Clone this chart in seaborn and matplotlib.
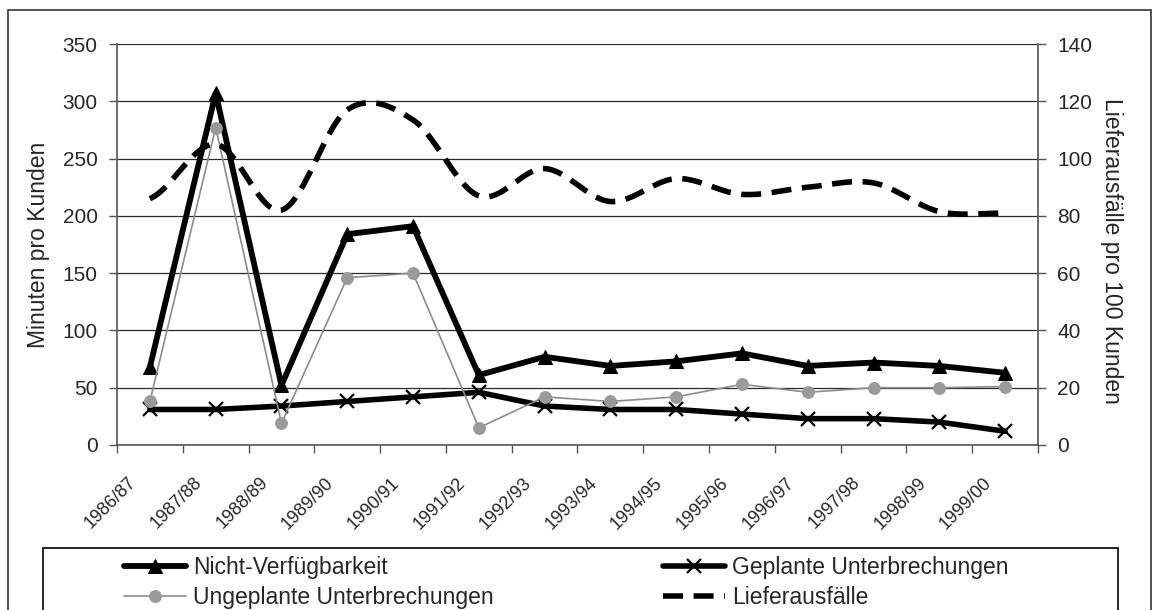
import numpy as np
import pandas as pd
import matplotlib
matplotlib.use("Agg")
import matplotlib.pyplot as plt
import matplotlib.patches as mpatches
import matplotlib.transforms as mtransforms
import seaborn as sns

# season labels on the x axis
seasons = [
    "1986/87", "1987/88", "1988/89", "1989/90", "1990/91", "1991/92", "1992/93",
    "1993/94", "1994/95", "1995/96", "1996/97", "1997/98", "1998/99", "1999/00",
]

# minutes per customer (left axis)
nicht_verfuegbarkeit = [68, 307, 52, 184, 191, 61, 77, 69, 73, 80, 69, 72, 69, 63]
geplante = [31, 31, 34, 38, 42, 46, 34, 31, 31, 27, 23, 23, 20, 12]
ungeplante = [38, 277, 19, 146, 150, 15, 42, 38, 42, 53, 46, 50, 50, 51]

# supply failures per 100 customers (right axis)
lieferausfaelle = [86, 105, 82, 117, 113.5, 87, 96.5, 85, 93, 87.5, 90, 91.5, 81.5, 81]


def smooth_curve(xs, ys, steps=24):
    """
    Catmull-Rom style smoothing, like the 'smoothed line' option in spreadsheets.
    Only used to draw the line, the data stays as given.
    """
    xs = np.asarray(xs, dtype=float)
    ys = np.asarray(ys, dtype=float)
    px = np.concatenate([[xs[0]], xs, [xs[-1]]])
    py = np.concatenate([[ys[0]], ys, [ys[-1]]])
    out_x, out_y = [], []
    t = np.linspace(0, 1, steps, endpoint=False)
    for i in range(1, len(px) - 2):
        p0, p1, p2, p3 = py[i - 1], py[i], py[i + 1], py[i + 2]
        m1 = (p2 - p0) / 2
        m2 = (p3 - p1) / 2
        h00 = 2 * t**3 - 3 * t**2 + 1
        h10 = t**3 - 2 * t**2 + t
        h01 = -2 * t**3 + 3 * t**2
        h11 = t**3 - t**2
        out_y.extend(h00 * p1 + h10 * m1 + h01 * p2 + h11 * m2)
        out_x.extend(px[i] + t * (px[i + 1] - px[i]))
    out_x.append(xs[-1])
    out_y.append(ys[-1])
    return np.array(out_x), np.array(out_y)


df = pd.DataFrame({
    "pos": np.arange(len(seasons)),
    "season": seasons,
    "nv": nicht_verfuegbarkeit,
    "gu": geplante,
    "uu": ungeplante,
    "la": lieferausfaelle,
})

sns.set_style("white")
plt.rcParams["font.family"] = ["Liberation Sans", "DejaVu Sans"]

fig = plt.figure(figsize=(11.53, 6.10), dpi=100)
W, H = 1153, 610
ax = fig.add_axes([117 / W, 1 - 445 / H, (1038 - 117) / W, (445 - 44) / H])
ax2 = ax.twinx()

# left axis series
sns.lineplot(
    data=df, x="pos", y="nv", ax=ax,
    color="black", linewidth=4.2,
    marker="^", markersize=10,
    markeredgecolor="black", markerfacecolor="black",
    label="Nicht-Verfügbarkeit", legend=False, zorder=3
)
sns.lineplot(
    data=df, x="pos", y="gu", ax=ax,
    color="black", linewidth=4.0,
    marker="x", markersize=10, markeredgewidth=1.6,
    markeredgecolor="black",
    label="Geplante Unterbrechungen", legend=False, zorder=3
)
sns.lineplot(
    data=df, x="pos", y="uu", ax=ax,
    color="#8c8c8c", linewidth=1.2,
    marker="o", markersize=8.5,
    markeredgecolor="#9a9a9a", markerfacecolor="#9a9a9a",
    label="Ungeplante Unterbrechungen", legend=False, zorder=4
)

# right axis, smoothed dashed line
sx, sy = smooth_curve(df["pos"], df["la"])
sns.lineplot(
    x=sx, y=sy, ax=ax2, sort=False,
    color="black", linewidth=4.0,
    linestyle=(0, (3.6, 1.9)),
    label="Lieferausfälle", legend=False
)

# axes styling
ax.set_xlim(-0.5, len(seasons) - 0.5)
ax.set_ylim(0, 350)
ax.set_yticks(range(0, 351, 50))
ax2.set_ylim(0, 140)
ax2.set_yticks(range(0, 141, 20))

ax.set_xticks(np.arange(-0.5, len(seasons), 1.0))
ax.set_xticklabels([])
ax.set_xticks(df["pos"], seasons, minor=True)
ax.tick_params(axis="x", which="major", direction="out", length=6,
               width=1, color="#555555", bottom=True)
ax.tick_params(axis="x", which="minor", length=0, pad=21, labelsize=13,
               labelrotation=45)
for lbl in ax.get_xticklabels(minor=True):
    lbl.set_horizontalalignment("right")
    lbl.set_transform(lbl.get_transform()
                      + mtransforms.ScaledTranslation(-0.10, 0, fig.dpi_scale_trans))

ax.tick_params(axis="y", direction="out", length=6, width=1, color="#555555",
               labelsize=15, pad=8, left=True)
ax2.tick_params(axis="y", direction="out", length=6, width=1, color="#555555",
                labelsize=15, pad=8, right=True)

ax.yaxis.grid(True, color="#2a2a2a", linewidth=0.9)
ax.set_axisbelow(True)
ax2.grid(False)

for side in ["top", "right"]:
    ax.spines[side].set_visible(False)
for side in ["top", "left", "bottom"]:
    ax2.spines[side].set_visible(False)
ax.spines["left"].set_color("#555555")
ax.spines["bottom"].set_color("#555555")
ax2.spines["right"].set_color("#555555")
for sp in [ax.spines["left"], ax.spines["bottom"], ax2.spines["right"]]:
    sp.set_linewidth(1.2)

ax.set_xlabel("")
ax.set_ylabel("Minuten pro Kunden", fontsize=16.5)
ax.yaxis.set_label_coords((50 - 117) / 921, 0.5)
ax2.set_ylabel("Lieferausfälle pro 100 Kunden", fontsize=16.5, rotation=270,
               va="bottom")
ax2.yaxis.set_label_coords((1100 - 117) / 921, 0.485)

# legend with frame drawn separately (frame is clipped at the bottom)
h1, l1 = ax.get_legend_handles_labels()
h2, l2 = ax2.get_legend_handles_labels()
handles = {lab: h for h, lab in zip(h1 + h2, l1 + l2)}
order = ["Nicht-Verfügbarkeit", "Ungeplante Unterbrechungen",
         "Geplante Unterbrechungen", "Lieferausfälle"]
fig.legend(
    [handles[o] for o in order], order,
    loc="upper left", bbox_to_anchor=(124 / W, 1 - 556 / H),
    ncol=2, frameon=False, fontsize=16.5,
    handlelength=2.7, handletextpad=0.3, columnspacing=7.4,
    labelspacing=0.32, borderpad=0, borderaxespad=0
)
fig.patches.append(mpatches.Rectangle(
    (43 / W, -0.05), (1118 - 43) / W, (1 - 548 / H) + 0.05,
    transform=fig.transFigure, fill=False, edgecolor="black", linewidth=1.2
))
fig.patches.append(mpatches.Rectangle(
    (8 / W, -0.05), (1151 - 8) / W, (1 - 10 / H) + 0.05,
    transform=fig.transFigure, fill=False, edgecolor="#333333", linewidth=1.2
))

fig.savefig("out.png", dpi=100)
